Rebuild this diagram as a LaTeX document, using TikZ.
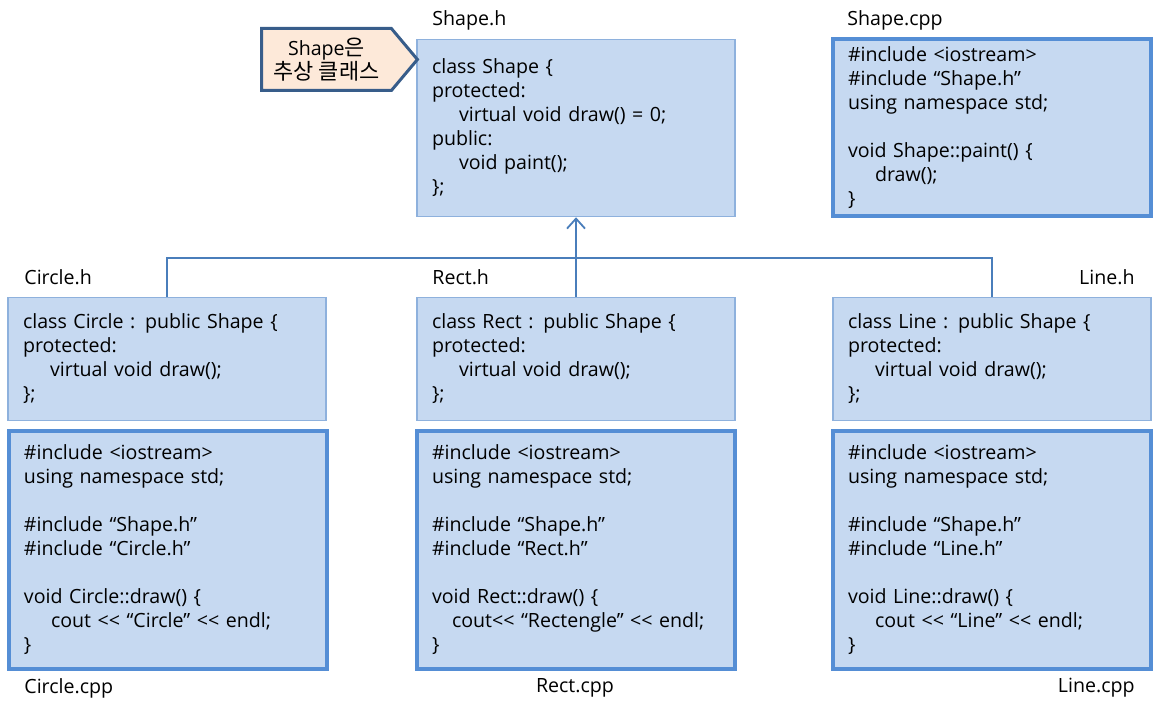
\documentclass[tikz,border=0pt]{standalone}
\usepackage{fontspec}
\setmainfont{Open Sans}
\newfontfamily\kr[Scale=1.12]{Noto Sans CJK KR}
\usetikzlibrary{positioning, arrows.meta, shapes.symbols}
\definecolor{boxfill}{HTML}{C6D9F1}
\definecolor{thinedge}{HTML}{8EB1DD}
\definecolor{thickedge}{HTML}{558ED5}
\definecolor{wire}{HTML}{4A7EBB}
\definecolor{notefill}{HTML}{FDE9D9}
\definecolor{noteedge}{HTML}{385D8A}
\tikzset{
  code/.style={fill=boxfill, align=left, text width=144pt, inner xsep=7.5pt, inner ysep=0pt, minimum width=159pt, font=\fontsize{9.8}{12}\selectfont},
  header/.style={code, draw=thinedge, line width=0.75pt, minimum height=61.5pt},
  source/.style={code, draw=thickedge, line width=2pt, minimum height=119pt},
  fname/.style={inner sep=0pt, font=\fontsize{9.8}{12}\selectfont},
  link/.style={draw=wire, line width=0.9pt},
  note/.style={signal, signal to=east, signal pointer angle=100, draw=noteedge, line width=1.5pt, fill=notefill, align=center, minimum width=73pt, minimum height=31pt, inner xsep=6pt, inner ysep=1pt, font=\fontsize{9.8}{12}\selectfont},
}
\newcommand\indt{\hspace*{13.5pt}}
\newcommand\gap{\\ \strut\\}

\begin{document}
\begin{tikzpicture}[x=0.5pt, y=-0.5pt]
  \useasboundingbox (0,0) rectangle (1176,715);
  \node[header, minimum height=88.5pt] (shapeh) at (576,128) {class Shape \{\\protected:\\\indt virtual void draw() = 0;\\public:\\\indt void paint();\\\};};
  \node[source, minimum height=88.5pt] (shapecpp) at (992,128) {\#include <iostream>\\\#include “Shape.h”\\using namespace std;\gap void Shape::paint() \{\\\indt draw();\\\}};
  \node[header] (circh) at (167,359) {class Circle : public Shape \{\\protected:\\\indt virtual void draw();\\\};};
  \node[header] (recth) at (576,359) {class Rect : public Shape \{\\protected:\\\indt virtual void draw();\\\};};
  \node[header] (lineh) at (992,359) {class Line : public Shape \{\\protected:\\\indt virtual void draw();\\\};};
  \node[source] (circcpp) at (168,550) {\#include <iostream>\\using namespace std;\gap\#include “Shape.h”\\\#include “Circle.h”\gap void Circle::draw() \{\\\indt cout <{}< “Circle” <{}< endl;\\\}};
  \node[source] (rectcpp) at (576,550) {\#include <iostream>\\using namespace std;\gap\#include “Shape.h”\\\#include “Rect.h”\gap void Rect::draw() \{\\\hspace*{10pt}cout<{}< “Rectengle” <{}< endl;\\\}};
  \node[source] (linecpp) at (992,550) {\#include <iostream>\\using namespace std;\gap\#include “Shape.h”\\\#include “Line.h”\gap void Line::draw() \{\\\indt cout <{}< “Line” <{}< endl;\\\}};
  \node[fname, anchor=west] (shapehname) at (432,20) {Shape.h};
  \node[fname, anchor=west] (shapecppname) at (847,20) {Shape.cpp};
  \node[fname, anchor=west] (circhname) at (24,277) {Circle.h};
  \node[fname, anchor=west] (rechname) at (432,277) {Rect.h};
  \node[fname, anchor=east] (linehname) at (1135,277) {Line.h};
  \node[fname, anchor=west] (circcppname) at (24,688) {Circle.cpp};
  \node[fname] (rectcppname) at (575,688) {Rect.cpp};
  \node[fname, anchor=east] (linecppname) at (1135,688) {Line.cpp};
  \node[note, anchor=west] (note) at (260,59.5) {Shape{\kr 은}\\{\kr 추상 클래스}};
  \coordinate (bus) at (576,258);
  \draw[link] (circh.north) |- (bus) -| (lineh.north);
  \draw[link, -{Straight Barb[length=5pt, width=9pt]}] (recth.north) -- (shapeh.south);
\end{tikzpicture}
\end{document}
